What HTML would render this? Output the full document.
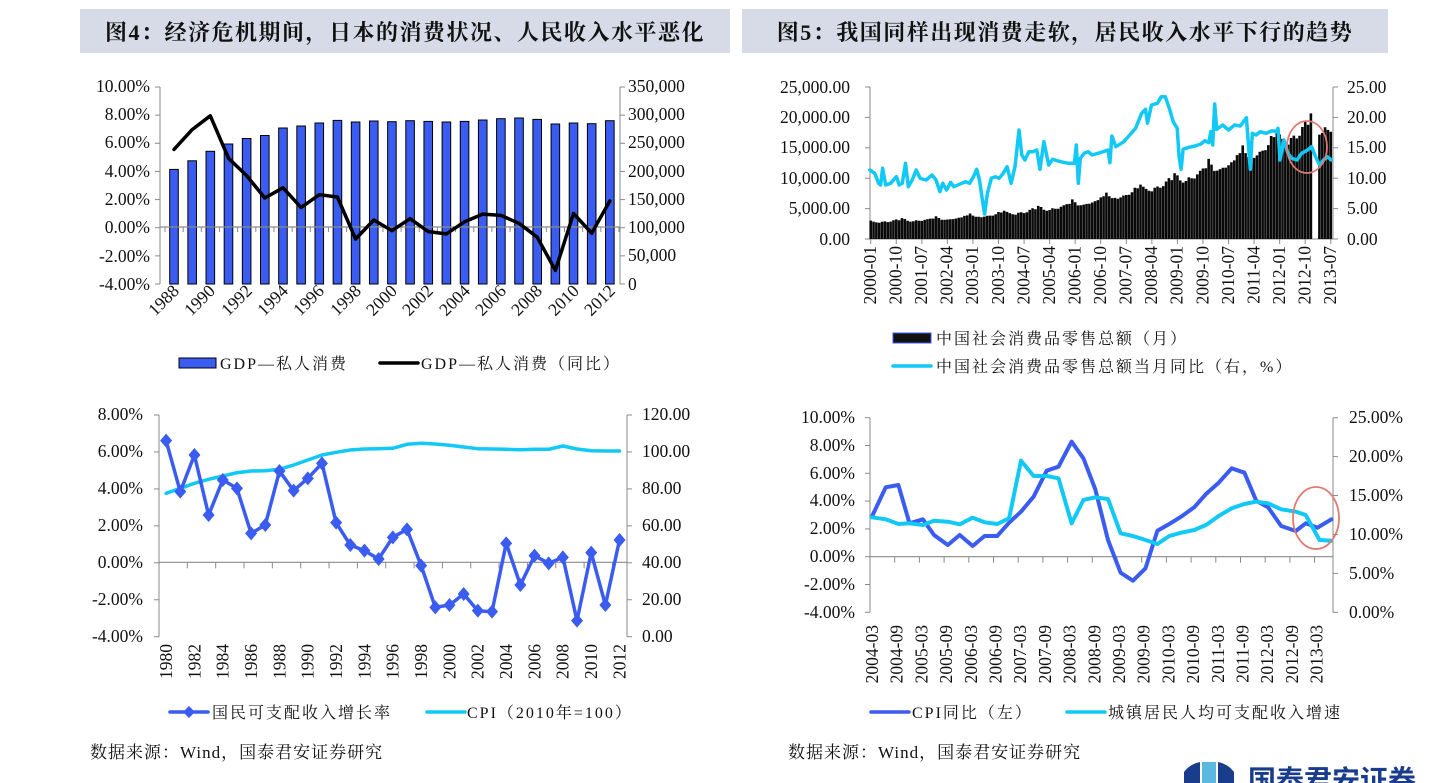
<!DOCTYPE html>
<html><head><meta charset="utf-8">
<style>
html,body{margin:0;padding:0;background:#fff;width:1440px;height:783px;overflow:hidden}
svg{display:block}
.n{font-family:"Liberation Serif","Noto Serif CJK SC",serif;font-size:17.5px;fill:#111}
.c{font-family:"Liberation Serif","Noto Serif CJK SC",serif;font-size:16px;fill:#111;letter-spacing:2px}
.t{font-family:"Liberation Serif","Noto Serif CJK SC",serif;font-size:22px;font-weight:bold;fill:#111;letter-spacing:1.5px}
</style></head><body>
<svg id="s" width="1440" height="783" viewBox="0 0 1440 783" xmlns="http://www.w3.org/2000/svg">
<rect x="80" y="9" width="650" height="44" fill="#d6dbe7"/>
<rect x="742" y="9" width="646" height="44" fill="#d6dbe7"/>
<text class="t" x="405" y="40" text-anchor="middle">图4：经济危机期间，日本的消费状况、人民收入水平恶化</text>
<text class="t" x="1065" y="40" text-anchor="middle">图5：我国同样出现消费走软，居民收入水平下行的趋势</text>

<g id="g1"></g><g id="g2"></g><g id="g3"></g><g id="g4"></g>

<g class="n" text-anchor="end">
<text x="150" y="92">10.00%</text><text x="150" y="120">8.00%</text><text x="150" y="148">6.00%</text><text x="150" y="177">4.00%</text><text x="150" y="205">2.00%</text><text x="150" y="233">0.00%</text><text x="150" y="262">-2.00%</text><text x="150" y="290">-4.00%</text>
</g>
<g class="n">
<text x="628" y="92">350,000</text><text x="628" y="120">300,000</text><text x="628" y="148">250,000</text><text x="628" y="177">200,000</text><text x="628" y="205">150,000</text><text x="628" y="233">100,000</text><text x="628" y="261">50,000</text><text x="628" y="290">0</text>
</g>
<g class="n" text-anchor="end">
<text transform="translate(180,292) rotate(-45)">1988</text>
<text transform="translate(216,292) rotate(-45)">1990</text>
<text transform="translate(253,292) rotate(-45)">1992</text>
<text transform="translate(289,292) rotate(-45)">1994</text>
<text transform="translate(325,292) rotate(-45)">1996</text>
<text transform="translate(362,292) rotate(-45)">1998</text>
<text transform="translate(398,292) rotate(-45)">2000</text>
<text transform="translate(434,292) rotate(-45)">2002</text>
<text transform="translate(471,292) rotate(-45)">2004</text>
<text transform="translate(507,292) rotate(-45)">2006</text>
<text transform="translate(543,292) rotate(-45)">2008</text>
<text transform="translate(580,292) rotate(-45)">2010</text>
<text transform="translate(616,292) rotate(-45)">2012</text>
</g>
<rect x="179" y="358" width="37" height="10" fill="#3a5cf0" stroke="#000" stroke-width="1"/>
<text class="c" x="220" y="369">GDP—私人消费</text>
<line x1="380" y1="363" x2="418" y2="363" stroke="#000" stroke-width="3.5" stroke-linecap="round"/>
<text class="c" x="421" y="369">GDP—私人消费（同比）</text>

<g class="n" text-anchor="end">
<text x="850" y="93">25,000.00</text><text x="850" y="123">20,000.00</text><text x="850" y="153">15,000.00</text><text x="850" y="184">10,000.00</text><text x="850" y="214">5,000.00</text><text x="850" y="245">0.00</text>
</g>
<g class="n">
<text x="1347" y="93">25.00</text><text x="1347" y="123">20.00</text><text x="1347" y="153">15.00</text><text x="1347" y="184">10.00</text><text x="1347" y="214">5.00</text><text x="1347" y="245">0.00</text>
</g>
<g class="n" text-anchor="end">
<text transform="translate(876,246) rotate(-90)">2000-01</text>
<text transform="translate(901.6,246) rotate(-90)">2000-10</text>
<text transform="translate(927.1,246) rotate(-90)">2001-07</text>
<text transform="translate(952.7,246) rotate(-90)">2002-04</text>
<text transform="translate(978.2,246) rotate(-90)">2003-01</text>
<text transform="translate(1003.8,246) rotate(-90)">2003-10</text>
<text transform="translate(1029.4,246) rotate(-90)">2004-07</text>
<text transform="translate(1054.9,246) rotate(-90)">2005-04</text>
<text transform="translate(1080.5,246) rotate(-90)">2006-01</text>
<text transform="translate(1106,246) rotate(-90)">2006-10</text>
<text transform="translate(1131.6,246) rotate(-90)">2007-07</text>
<text transform="translate(1157.2,246) rotate(-90)">2008-04</text>
<text transform="translate(1182.7,246) rotate(-90)">2009-01</text>
<text transform="translate(1208.3,246) rotate(-90)">2009-10</text>
<text transform="translate(1233.8,246) rotate(-90)">2010-07</text>
<text transform="translate(1259.4,246) rotate(-90)">2011-04</text>
<text transform="translate(1285,246) rotate(-90)">2012-01</text>
<text transform="translate(1310.5,246) rotate(-90)">2012-10</text>
<text transform="translate(1336.1,246) rotate(-90)">2013-07</text>
</g>
<rect x="893" y="333" width="38" height="10" fill="#111" stroke="#3a5cf0" stroke-width="1"/>
<text class="c" x="936" y="344">中国社会消费品零售总额（月）</text>
<line x1="893" y1="366" x2="931" y2="366" stroke="#12c8f5" stroke-width="3.5" stroke-linecap="round"/>
<text class="c" x="936" y="372">中国社会消费品零售总额当月同比（右，%）</text>
<ellipse cx="1307" cy="147" rx="20" ry="26" fill="none" stroke="#e07a72" stroke-width="1.8"/>

<g class="n" text-anchor="end">
<text x="143" y="420">8.00%</text><text x="143" y="457">6.00%</text><text x="143" y="494">4.00%</text><text x="143" y="531">2.00%</text><text x="143" y="568">0.00%</text><text x="143" y="605">-2.00%</text><text x="143" y="642">-4.00%</text>
</g>
<g class="n">
<text x="642" y="420">120.00</text><text x="642" y="457">100.00</text><text x="642" y="494">80.00</text><text x="642" y="531">60.00</text><text x="642" y="568">40.00</text><text x="642" y="605">20.00</text><text x="642" y="642">0.00</text>
</g>
<g class="n" text-anchor="end">
<text transform="translate(172,644) rotate(-90)">1980</text>
<text transform="translate(200.4,644) rotate(-90)">1982</text>
<text transform="translate(228.7,644) rotate(-90)">1984</text>
<text transform="translate(257,644) rotate(-90)">1986</text>
<text transform="translate(285.4,644) rotate(-90)">1988</text>
<text transform="translate(313.7,644) rotate(-90)">1990</text>
<text transform="translate(342,644) rotate(-90)">1992</text>
<text transform="translate(370.4,644) rotate(-90)">1994</text>
<text transform="translate(398.7,644) rotate(-90)">1996</text>
<text transform="translate(427,644) rotate(-90)">1998</text>
<text transform="translate(455.4,644) rotate(-90)">2000</text>
<text transform="translate(483.7,644) rotate(-90)">2002</text>
<text transform="translate(512,644) rotate(-90)">2004</text>
<text transform="translate(540.4,644) rotate(-90)">2006</text>
<text transform="translate(568.7,644) rotate(-90)">2008</text>
<text transform="translate(597,644) rotate(-90)">2010</text>
<text transform="translate(625.4,644) rotate(-90)">2012</text>
</g>
<line x1="170" y1="712" x2="208" y2="712" stroke="#3a5cf0" stroke-width="3.5" stroke-linecap="round"/>
<path d="M189 706 L195 712 L189 718 L183 712Z" fill="#3a5cf0"/>
<text class="c" x="212" y="718">国民可支配收入增长率</text>
<line x1="427" y1="712" x2="465" y2="712" stroke="#12c8f5" stroke-width="3.5" stroke-linecap="round"/>
<text class="c" x="467" y="718">CPI（2010年=100）</text>

<g class="n" text-anchor="end">
<text x="855" y="423">10.00%</text><text x="855" y="451">8.00%</text><text x="855" y="479">6.00%</text><text x="855" y="506">4.00%</text><text x="855" y="534">2.00%</text><text x="855" y="562">0.00%</text><text x="855" y="590">-2.00%</text><text x="855" y="618">-4.00%</text>
</g>
<g class="n">
<text x="1349" y="423">25.00%</text><text x="1349" y="462">20.00%</text><text x="1349" y="501">15.00%</text><text x="1349" y="540">10.00%</text><text x="1349" y="579">5.00%</text><text x="1349" y="618">0.00%</text>
</g>
<g class="n" text-anchor="end">
<text transform="translate(878,625) rotate(-90)">2004-03</text>
<text transform="translate(902.7,625) rotate(-90)">2004-09</text>
<text transform="translate(927.4,625) rotate(-90)">2005-03</text>
<text transform="translate(952.1,625) rotate(-90)">2005-09</text>
<text transform="translate(976.8,625) rotate(-90)">2006-03</text>
<text transform="translate(1001.5,625) rotate(-90)">2006-09</text>
<text transform="translate(1026.2,625) rotate(-90)">2007-03</text>
<text transform="translate(1050.9,625) rotate(-90)">2007-09</text>
<text transform="translate(1075.6,625) rotate(-90)">2008-03</text>
<text transform="translate(1100.3,625) rotate(-90)">2008-09</text>
<text transform="translate(1125,625) rotate(-90)">2009-03</text>
<text transform="translate(1149.7,625) rotate(-90)">2009-09</text>
<text transform="translate(1174.4,625) rotate(-90)">2010-03</text>
<text transform="translate(1199.1,625) rotate(-90)">2010-09</text>
<text transform="translate(1223.8,625) rotate(-90)">2011-03</text>
<text transform="translate(1248.5,625) rotate(-90)">2011-09</text>
<text transform="translate(1273.2,625) rotate(-90)">2012-03</text>
<text transform="translate(1297.9,625) rotate(-90)">2012-09</text>
<text transform="translate(1322.6,625) rotate(-90)">2013-03</text>
</g>
<line x1="871" y1="712" x2="909" y2="712" stroke="#3a5cf0" stroke-width="3.5" stroke-linecap="round"/>
<text class="c" x="912" y="718">CPI同比（左）</text>
<line x1="1067" y1="712" x2="1105" y2="712" stroke="#12c8f5" stroke-width="3.5" stroke-linecap="round"/>
<text class="c" x="1108" y="718">城镇居民人均可支配收入增速</text>
<ellipse cx="1316" cy="518" rx="23" ry="31" fill="none" stroke="#e07a72" stroke-width="1.8"/>

<text class="c" x="90" y="758" style="font-size:17px;letter-spacing:1px">数据来源：Wind，国泰君安证券研究</text>
<text class="c" x="788" y="758" style="font-size:17px;letter-spacing:1px">数据来源：Wind，国泰君安证券研究</text>
<path d="M1184 783 L1184 772 Q1190 764 1200 762 L1200 783Z" fill="#1a3c8c"/>
<path d="M1202 762 L1216 762 L1216 783 L1202 783Z" fill="#5bb8e0"/>
<path d="M1218 762 Q1228 764 1234 772 L1234 783 L1218 783Z" fill="#1a3c8c"/>
<text x="1248" y="790" style="font-family:'Noto Sans CJK SC',sans-serif;font-size:28px;font-weight:bold;fill:#1a3c8c">国泰君安证券</text>
</svg>
<script>
var NS="http://www.w3.org/2000/svg";
function el(g,t,a){var e=document.createElementNS(NS,t);for(var k in a)e.setAttribute(k,a[k]);document.getElementById(g).appendChild(e);return e;}
function pl(g,pts,c,w){el(g,"polyline",{points:pts.map(function(p){return p[0].toFixed(1)+","+p[1].toFixed(1)}).join(" "),fill:"none",stroke:c,"stroke-width":w,"stroke-linejoin":"round","stroke-linecap":"round"});}
var AX="#8a8a8a",BL="#3a5cf0",CY="#12c8f5";
(function(){
 var L=160,R=620,T=87,B=284,Z=227;
 el("g1","line",{x1:L,y1:T,x2:L,y2:B,stroke:AX});
 el("g1","line",{x1:R,y1:T,x2:R,y2:B,stroke:AX});
 for(var i=0;i<8;i++){var y=T+i*(B-T)/7;el("g1","line",{x1:L-5,y1:y,x2:L,y2:y,stroke:AX});el("g1","line",{x1:R,y1:y,x2:R+5,y2:y,stroke:AX});}
 var tops=[169.4,160.8,151.3,144,138.5,135.5,128,126,123,120.4,122,121,121.7,120.7,121.4,122,121.4,120,118.7,118,119.4,124,123,123.7,120.7];
 var ln=[149.4,129.6,115.8,158.2,175.6,198,187.8,207.5,194.7,197,239,220,230.6,218.7,231.6,233.9,221.7,214.1,215.4,223.3,237.2,270.4,213.5,233.2,201];
 for(var i=0;i<25;i++){var x=174+i*18.16;el("g1","rect",{x:x-4.3,y:tops[i],width:8.6,height:B-tops[i],fill:BL,stroke:"#000","stroke-width":1});}
 el("g1","line",{x1:L,y1:Z,x2:R,y2:Z,stroke:AX,"stroke-width":1.2});
 for(var i=0;i<=25;i++){var x=165+i*18.16;el("g1","line",{x1:x,y1:Z,x2:x,y2:Z+5,stroke:AX});}
 pl("g1",ln.map(function(y,i){return[174+i*18.16,y]}),"#000",3.5);
})();
(function(){
 var L=870,R=1333,T=87,B=239;
 el("g2","line",{x1:L,y1:T,x2:L,y2:B,stroke:AX});
 el("g2","line",{x1:R,y1:T,x2:R,y2:B,stroke:AX});
 el("g2","line",{x1:L,y1:B,x2:R,y2:B,stroke:AX});
 for(var i=0;i<6;i++){var y=T+i*(B-T)/5;el("g2","line",{x1:L-5,y1:y,x2:L,y2:y,stroke:AX});el("g2","line",{x1:R,y1:y,x2:R+5,y2:y,stroke:AX});}
 for(var i=0;i<19;i++){var x=870.7+i*9*2.84;el("g2","line",{x1:x,y1:B,x2:x,y2:B+5,stroke:AX});}
 var km=[[0,2850],[24,3250],[54,4500],[75,5900],[99,8500],[120,11500],[132,13600],[144,16300],[154,18200],[162,18700]];
 function tr(m){for(var j=0;j<km.length-1;j++){if(m<=km[j+1][0]){var a=km[j],b=km[j+1],f=(m-a[0])/(b[0]-a[0]);return Math.exp(Math.log(a[1])*(1-f)+Math.log(b[1])*f);}}return km[km.length-1][1];}
 var se=[1.06,0.98,0.95,0.94,0.97,0.97,0.96,0.98,1.02,1.07,1.05,1.14];
 var d="";
 for(var m=0;m<163;m++){if(m==156||m==157)continue;var v=tr(m)*se[m%12]*(1+0.02*Math.sin(m*1.7));var h=v/25000*(B-T);var x=870.7+m*2.84-1.3;d+="M"+x.toFixed(2)+" "+B+"v"+(-h).toFixed(1)+"h2.6v"+h.toFixed(1)+"z";}
 el("g2","path",{d:d,fill:"#0a0a0a"});
 var P=[[278,300],[290,310],[300,340],[305,345],[310,295],[318,345],[330,340],[345,320],[352,345],[360,340],[368,280],[375,350],[385,330],[395,300],[405,325],[420,330],[435,315],[445,330],[455,365],[462,340],[472,360],[482,337],[490,350],[510,340],[520,335],[530,340],[540,320],[548,298],[555,330],[560,370],[568,432],[575,370],[585,325],[595,320],[605,325],[615,310],[625,290],[635,340],[645,290],[655,180],[662,255],[670,270],[680,245],[690,245],[700,240],[708,298],[718,215],[730,285],[740,268],[760,275],[780,280],[795,280],[800,225],[805,340],[810,265],[820,250],[830,245],[840,255],[860,248],[880,240],[885,278],[890,198],[900,230],[920,215],[935,195],[950,175],[965,130],[975,118],[980,160],[990,105],[1005,100],[1015,80],[1025,80],[1035,115],[1045,155],[1055,175],[1060,260],[1065,298],[1070,238],[1085,232],[1100,228],[1115,222],[1125,212],[1135,218],[1140,185],[1145,225],[1150,102],[1155,178],[1170,165],[1185,180],[1200,165],[1215,168],[1230,143],[1240,298],[1245,190],[1255,195],[1265,185],[1280,190],[1295,182],[1305,185],[1310,175],[1315,270],[1325,210],[1335,250],[1345,265],[1358,270],[1370,250],[1385,240],[1395,230],[1405,260],[1415,285],[1425,270],[1435,260],[1445,270]];
 pl("g2",P.map(function(p){return[760+p[0]/2.529,70+p[1]/3]}),CY,3.5);
})();
(function(){
 var L=159,R=627,T=415,B=636.7,Z=562.3;
 el("g3","line",{x1:L,y1:T,x2:L,y2:B,stroke:AX});
 el("g3","line",{x1:R,y1:T,x2:R,y2:B,stroke:AX});
 for(var i=0;i<7;i++){var y=T+i*(B-T)/6;el("g3","line",{x1:L-5,y1:y,x2:L,y2:y,stroke:AX});el("g3","line",{x1:R,y1:y,x2:R+5,y2:y,stroke:AX});}
 el("g3","line",{x1:L,y1:Z,x2:R,y2:Z,stroke:AX,"stroke-width":1.2});
 for(var i=0;i<=16;i++){var x=159+i*28.34;el("g3","line",{x1:x,y1:Z,x2:x,y2:Z+6,stroke:AX});}
 var b=[122,275,165,345,240,265,400,375,213,272,235,190,368,435,452,477,412,388,497,622,615,582,632,635,430,555,467,490,472,662,458,615,420];
 var c=[280,265,250,238,228,218,213,212,208,195,180,165,157,150,147,146,145,133,130,132,136,141,146,147,148,149,148,148,138,147,152,153,153];
 pl("g3",c.map(function(y,i){return[166.1+i*14.17,400+y/3]}),CY,3.5);
 var bp=b.map(function(y,i){return[166.1+i*14.17,400+y/3]});
 pl("g3",bp,BL,3.5);
 bp.forEach(function(p){el("g3","path",{d:"M"+p[0]+" "+(p[1]-7)+"l6 7l-6 7l-6 -7z",fill:BL});});
})();
(function(){
 var L=870,R=1333,T=417.7,B=612.3,Z=556.7;
 el("g4","line",{x1:L,y1:T,x2:L,y2:B,stroke:AX});
 el("g4","line",{x1:R,y1:T,x2:R,y2:B,stroke:AX});
 for(var i=0;i<8;i++){var y=T+i*(B-T)/7;el("g4","line",{x1:L-5,y1:y,x2:L,y2:y,stroke:AX});}
 for(var i=0;i<6;i++){var y=T+i*(B-T)/5;el("g4","line",{x1:R,y1:y,x2:R+5,y2:y,stroke:AX});}
 el("g4","line",{x1:L,y1:Z,x2:R,y2:Z,stroke:AX,"stroke-width":1.2});
 for(var i=0;i<=18;i++){var x=L+i*24.7;el("g4","line",{x1:x,y1:Z,x2:x,y2:Z+6,stroke:AX});}
 var b=[[283,350],[318,262],[350,255],[378,370],[412,358],[440,405],[475,435],[505,405],[538,438],[568,408],[600,408],[630,368],[660,335],[692,290],[725,212],[755,200],[788,125],[818,175],[848,268],[880,420],[912,518],[943,542],[975,505],[1005,392],[1035,372],[1065,350],[1098,322],[1128,282],[1160,248],[1193,205],[1225,218],[1255,302],[1285,322],[1318,378],[1355,393],[1380,370],[1410,383],[1445,358]];
 var c=[[283,352],[318,358],[350,372],[378,370],[412,375],[440,362],[475,365],[505,373],[538,353],[568,367],[600,372],[630,355],[660,182],[692,228],[725,228],[755,235],[788,370],[818,300],[848,292],[880,297],[912,400],[943,408],[975,420],[1005,432],[1035,408],[1065,398],[1098,390],[1128,375],[1160,348],[1193,325],[1225,312],[1255,305],[1285,310],[1318,328],[1355,335],[1380,345],[1415,420],[1445,422]];
 function tf(p){return[760+p[0]/2.529,400+p[1]/3]}
 pl("g4",b.map(tf),BL,4);
 pl("g4",c.map(tf),CY,4);
})();
</script>
</body></html>
